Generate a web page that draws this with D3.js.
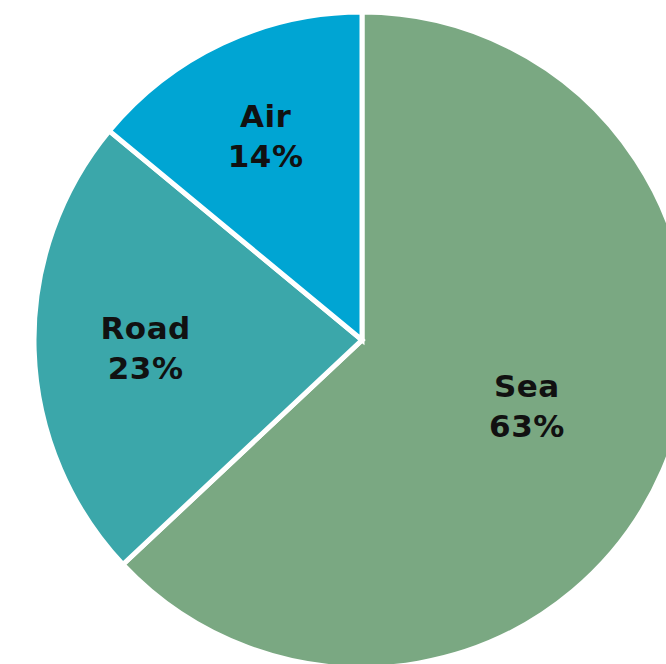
<!DOCTYPE html>
<html>
<head>
<meta charset="utf-8">
<script src="https://cdn.jsdelivr.net/npm/d3@7"></script>
<style>
  html, body { margin: 0; padding: 0; background: #ffffff; overflow: hidden; }
  svg { display: block; }
  text { font-family: "DejaVu Sans", sans-serif; font-weight: bold; fill: #111111; }
</style>
</head>
<body>
<svg id="chart" width="666" height="664"></svg>
<script>
// Freight share by transport mode
const modes = ["Sea", "Road", "Air"];
const shares = [63, 23, 14];
const colors = ["#7aa882", "#3ba7aa", "#00a5d3"];
// distance of each label from the centre, as a fraction of the radius
const labelRadius = [0.54, 0.66, 0.69];
// small angular nudge of each label, in degrees
const labelTurn = [-2, 0, 0];

const width = 666, height = 664;
const cx = 362, cy = 340, radius = 328;

const data = modes.map((m, i) => ({
  mode: m, share: shares[i], color: colors[i], lr: labelRadius[i], turn: labelTurn[i]
}));

const pie = d3.pie().value(d => d.share).sort(null);
const arc = d3.arc().innerRadius(0).outerRadius(radius);

const svg = d3.select("#chart");
const g = svg.append("g").attr("transform", `translate(${cx},${cy})`);

const arcs = pie(data);

g.selectAll("path.slice")
  .data(arcs)
  .join("path")
  .attr("class", "slice")
  .attr("d", arc)
  .attr("fill", d => d.data.color)
  .attr("stroke", "#ffffff")
  .attr("stroke-width", 5)
  .attr("stroke-linejoin", "miter");

const labels = g.selectAll("g.label")
  .data(arcs)
  .join("g")
  .attr("class", "label")
  .attr("transform", d => {
    const a = (d.startAngle + d.endAngle) / 2 + d.data.turn * Math.PI / 180;
    const r = radius * d.data.lr;
    return `translate(${r * Math.sin(a)},${-r * Math.cos(a)})`;
  });

labels.append("text")
  .attr("text-anchor", "middle")
  .attr("y", -8)
  .attr("font-size", 31)
  .attr("letter-spacing", 0.5)
  .text(d => d.data.mode);

labels.append("text")
  .attr("text-anchor", "middle")
  .attr("y", 32)
  .attr("font-size", 31)
  .attr("letter-spacing", 0.5)
  .text(d => d.data.share + "%");
</script>
</body>
</html>
